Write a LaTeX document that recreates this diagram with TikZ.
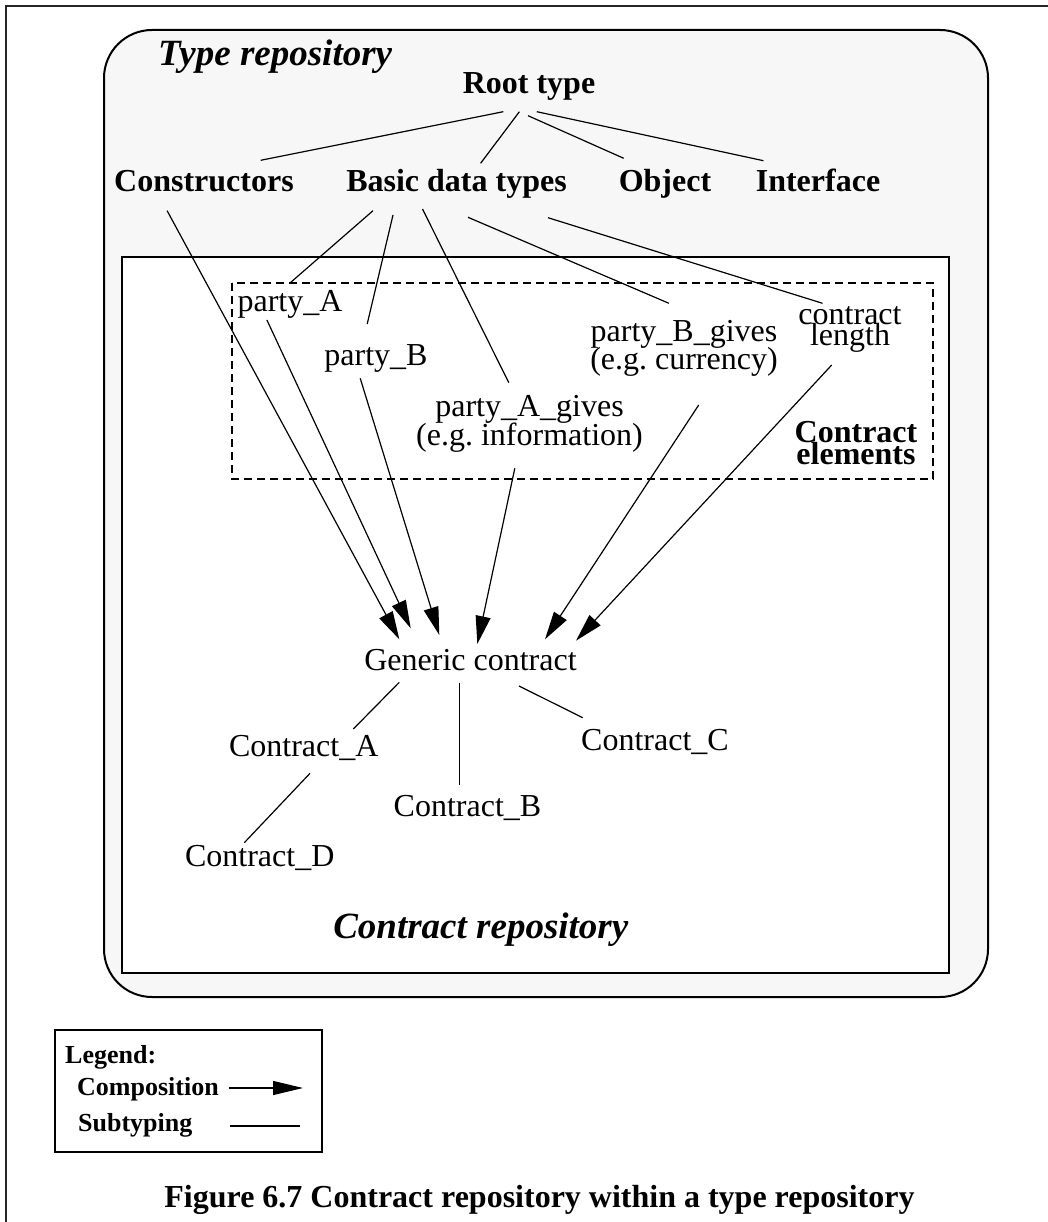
\documentclass[tikz,border=0pt]{standalone}
\usepackage{fontspec}
\setmainfont{Liberation Serif}
\usetikzlibrary{arrows.meta,calc}
\frenchspacing

\definecolor{boxgray}{RGB}{247,247,247}

% two centred lines with a fixed distance between their baselines;
% the box's baseline is that of the first line
\newcommand\stackedlines[3]{\vtop{\baselineskip=#1\lineskiplimit=-100pt\relax
  \halign{\hfil##\hfil\cr#2\cr#3\cr}}}

\tikzset{
  lbl/.style={inner sep=0pt, anchor=base, font=\fontsize{32}{34}\selectfont},
  head/.style={inner sep=0pt, anchor=base, font=\bfseries\fontsize{32}{34}\selectfont},
  title/.style={inner sep=0pt, anchor=base west, font=\bfseries\itshape\fontsize{37}{40}\selectfont},
  legtext/.style={inner sep=0pt, anchor=base west, font=\bfseries\fontsize{26}{28}\selectfont},
  sub/.style={line width=1.2pt},
  comp/.style={line width=1.2pt, -{Triangle[length=28pt,width=15pt]}},
  frame/.style={line width=2pt},
}

\begin{document}
\begin{tikzpicture}[x=1pt,y=-1pt]
\useasboundingbox (0,0) rectangle (1048,1222);

% page frame
\draw[frame, black!85] (1048,6) -- (6,6) -- (6,1222);

% type repository, contract repository and contract elements
\draw[frame, fill=boxgray, rounded corners=48pt] (104,30) rectangle (988,997);
\draw[frame, fill=white] (122,257) rectangle (949,973);
\draw[line width=1.5pt, dash pattern=on 8pt off 5pt] (232,283) rectangle (933,479);

% types
\node[title] (typerepo) at (158,66) {Type repository};
\node[head] (root) at (529,94) {Root type};
\node[head] (cons) at (204,192) {Constructors};
\node[head] (bdt) at (456.5,192) {Basic data types};
\node[head] (obj) at (665,192) {Object};
\node[head] (intf) at (818,192) {Interface};

% contract elements
\node[lbl] (pA) at (290,311.7) {party\_A};
\node[lbl] (pB) at (376,365) {party\_B};
\node[lbl] (pAg) at (529.5,416) {\stackedlines{29pt}{party\_A\_gives}{(e.g. information)}};
\node[lbl] (pBg) at (684,341.7) {\stackedlines{27.5pt}{party\_B\_gives}{(e.g. currency)}};
\node[lbl] (clen) at (850,324) {\stackedlines{21.5pt}{contract}{length}};
\node[head] (elems) at (856,442.7) {\stackedlines{21.5pt}{Contract}{elements}};

% contracts
\node[lbl] (gen) at (470.5,670.7) {Generic contract};
\node[lbl] (cA) at (303.7,756) {Contract\_A};
\node[lbl] (cB) at (467.5,816.7) {Contract\_B};
\node[lbl] (cC) at (655,750) {Contract\_C};
\node[lbl] (cD) at (259.7,866.7) {Contract\_D};
\node[title, anchor=base] (crepo) at (480.8,938.3) {Contract repository};

% subtyping below the root type
\draw[sub] ($(root.base)+(-25.7,17.7)$) -- ($(cons.base)+(56.7,-31.7)$);
\draw[sub] ($(root.base)+(-9.6,17.7)$) -- ($(bdt.base)+(24.1,-28.7)$);
\draw[sub] ($(root.base)+(-1,21.7)$) -- ($(obj.base)+(-41.3,-33.7)$);
\draw[sub] ($(root.base)+(7.8,17.7)$) -- ($(intf.base)+(-54.6,-31.3)$);

% subtyping below the basic data types
\draw[sub] ($(bdt.base)+(-83.5,18.7)$) -- ($(pA.base)+(0,-28.7)$);
\draw[sub] ($(bdt.base)+(-63.5,23)$) -- ($(pB.base)+(-8.8,-41)$);
\draw[sub] ($(bdt.base)+(-34,17)$) -- ($(pAg.base)+(-20.7,-33.3)$);
\draw[sub] ($(bdt.base)+(11.5,25.3)$) -- ($(pBg.base)+(-15.1,-38.4)$);
\draw[sub] ($(bdt.base)+(91.5,25.7)$) -- ($(clen.base)+(-27.5,-20.7)$);

% composition of the generic contract
\draw[comp] ($(cons.base)+(-36.9,18.7)$) -- ($(gen.base)+(-71.2,-31.4)$);
\draw[comp] ($(pA.base)+(-23.1,8.3)$) -- ($(gen.base)+(-59.8,-42.4)$);
\draw[comp] ($(pB.base)+(-15.8,13.3)$) -- ($(gen.base)+(-31.2,-35.7)$);
\draw[comp] ($(pAg.base)+(-14.7,52.3)$) -- ($(gen.base)+(6.8,-26.7)$);
\draw[comp] ($(pBg.base)+(14.7,63.3)$) -- ($(gen.base)+(74.5,-31.4)$);
\draw[comp] ($(clen.base)+(-18.3,41)$) -- ($(gen.base)+(105.5,-30)$);

% subtyping of contracts
\draw[sub] ($(gen.base)+(-71.2,11.6)$) -- ($(cA.base)+(49.6,-27)$);
\draw[sub] ($(gen.base)+(-11.2,12)$) -- ($(cB.base)+(-8.2,-31.7)$);
\draw[sub] ($(gen.base)+(48.5,15.3)$) -- ($(cC.base)+(-72.3,-32.3)$);
\draw[sub] ($(cA.base)+(6.3,17.3)$) -- ($(cD.base)+(-15.4,-24)$);

% legend
\draw[line width=1.5pt] (55,1030) rectangle (322,1152);
\node[legtext] (leg) at (65,1063) {Legend:};
\node[legtext] (legcomp) at (77,1095) {Composition};
\node[legtext] (legsub) at (78,1131.7) {Subtyping};
\coordinate (compend) at (303,1088);
\coordinate (subend) at (300,1126);
\draw[line width=1.2pt, -{Triangle[length=30pt,width=14pt]}] ($(legcomp.base east)+(10,-7)$) -- (compend);
\draw[line width=1.2pt] ($(legsub.base west)+(152,-5.7)$) -- (subend);

% caption
\node[head] (caption) at (539.5,1207) {Figure 6.7 Contract repository within a type repository};
\end{tikzpicture}
\end{document}
